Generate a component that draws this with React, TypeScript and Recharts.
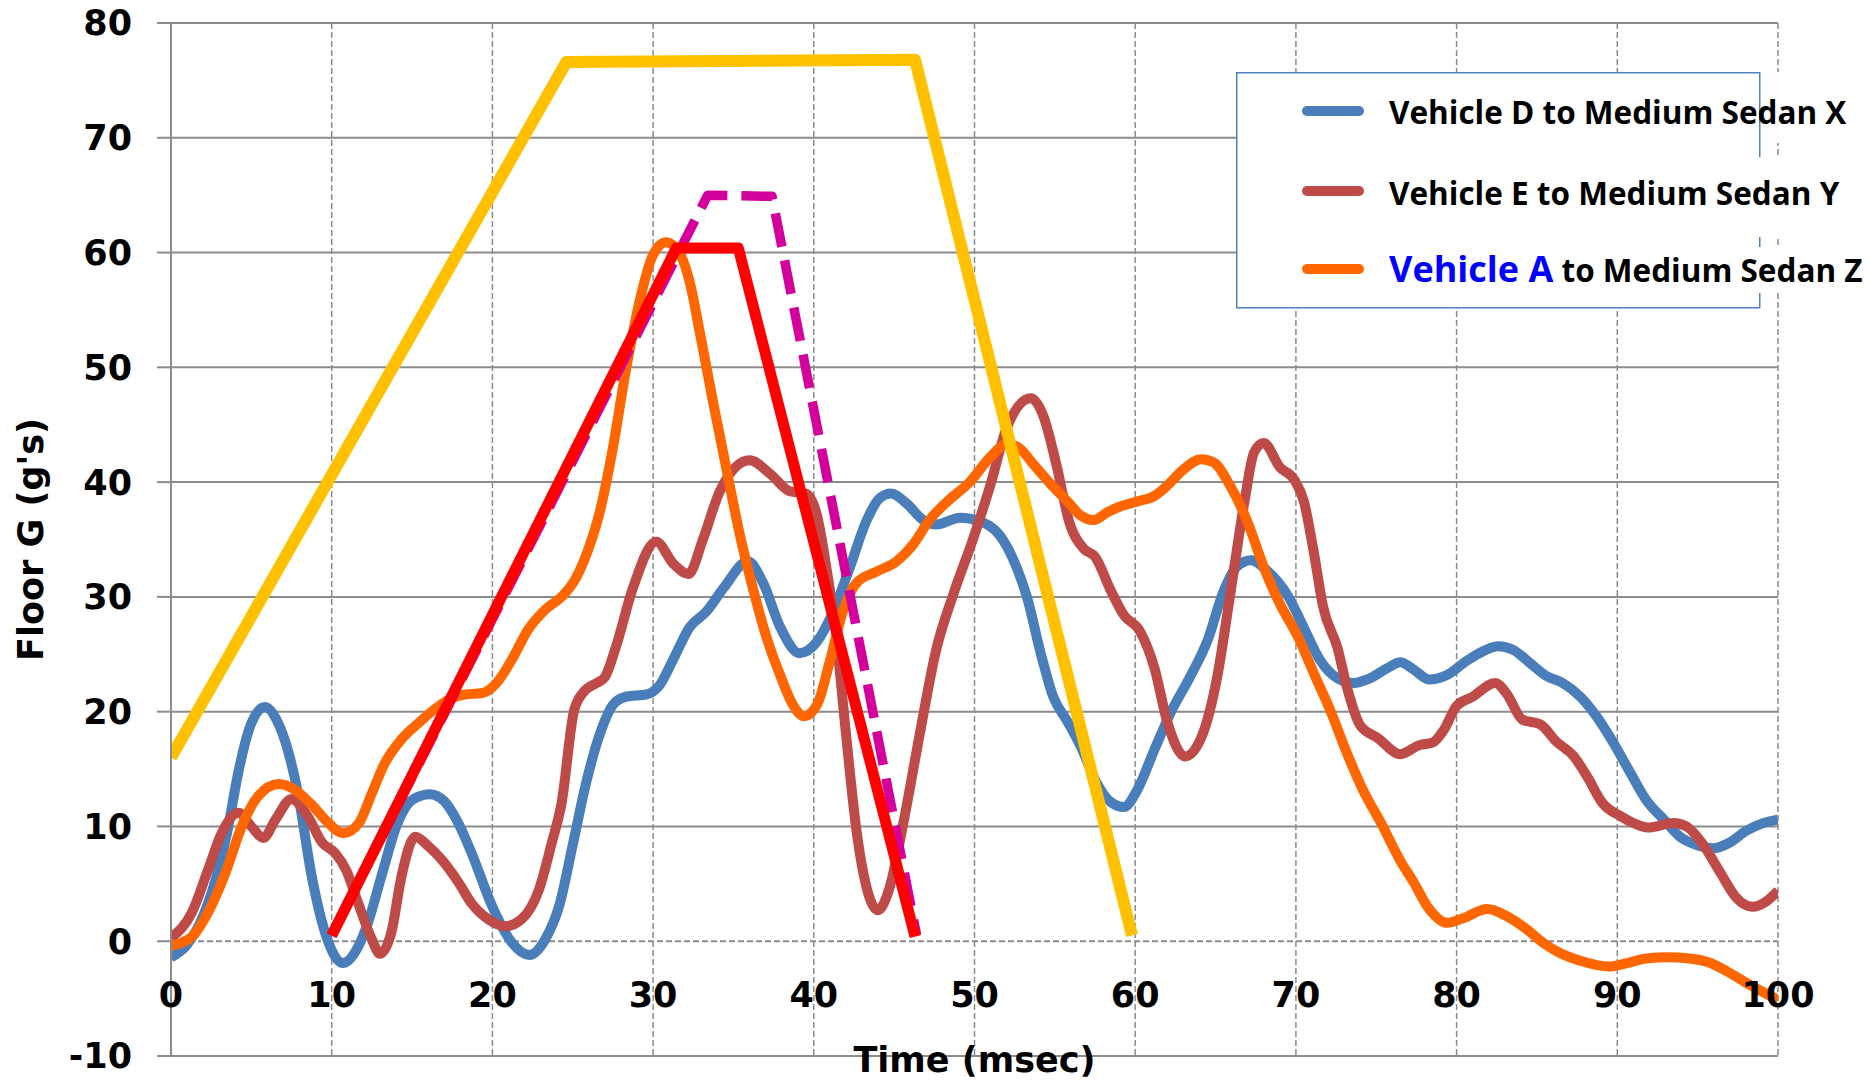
import React from 'react';
import { LineChart, Line, XAxis, YAxis, CartesianGrid, Legend, Label } from 'recharts';

// ---------- axis ticks ----------
const xTicks = [0, 10, 20, 30, 40, 50, 60, 70, 80, 90, 100];
const yTicks = [-10, 0, 10, 20, 30, 40, 50, 60, 70, 80];
const yGridSolid = [-10, 10, 20, 30, 40, 50, 60, 70, 80];
const yGridDashed = [0];

// ---------- series names ----------
const nameD = 'Vehicle D to Medium Sedan X';
const nameE = 'Vehicle E to Medium Sedan Y';
const nameA = 'Vehicle A to Medium Sedan Z';

// ---------- series values [time msec, floor G] ----------
const vehicleD: [number, number][] = [
  [0, -1.4], [1, -0.3], [2, 2.2], [2.8, 5.5], [3.5, 9.5], [4.2, 14.8], [5.0, 19.0], [5.85, 20.4],
  [6.6, 19.2], [7.3, 16.5], [7.9, 12.9], [8.75, 5.7], [9.6, 0.7], [10.7, -1.9], [11.6, -0.6],
  [12.3, 1.8], [13.1, 5.7], [14.1, 10.3], [15.0, 12.3], [16.1, 12.8], [17.0, 12.2], [17.8, 10.5],
  [18.7, 7.7], [20.0, 3.0], [21.2, -0.1], [22.3, -1.2], [23.3, 0.2], [24.2, 3.3], [25.0, 8.4],
  [25.85, 13.9], [26.7, 18.1], [27.5, 20.6], [28.3, 21.3], [29.6, 21.5], [30.4, 22.3], [31.2, 24.4],
  [32.3, 27.4], [33.3, 28.7], [34.4, 30.8], [35.9, 33.1], [36.85, 31.2], [37.9, 27.4], [39.1, 25.1],
  [40.2, 26.1], [41.2, 28.7], [42.2, 32.4], [43.3, 36.7], [44.1, 38.6], [44.8, 39.0], [45.8, 38.1],
  [46.8, 36.7], [47.6, 36.3], [49.1, 36.9], [50.3, 36.6], [51.6, 35.3], [52.4, 33.3], [53.3, 29.8],
  [54.1, 25.2], [54.9, 21.3], [55.8, 19.1], [56.6, 17.0], [57.6, 13.8], [58.5, 12.1], [59.3, 11.7],
  [60.1, 13.1], [61.2, 16.7], [62.2, 19.9], [63.4, 23.0], [64.5, 26.2], [65.5, 30.5], [66.3, 32.6],
  [67.2, 33.2], [68.2, 32.3], [69.5, 30.1], [70.5, 27.3], [71.5, 24.5], [72.6, 22.9], [73.6, 22.5],
  [74.6, 22.9], [75.7, 23.8], [76.5, 24.3], [77.3, 23.7], [78.3, 22.8], [79.4, 23.2], [80.6, 24.4],
  [81.7, 25.3], [82.6, 25.7], [83.5, 25.4], [84.6, 24.2], [85.6, 23.1], [86.6, 22.5], [87.7, 21.3],
  [88.7, 19.6], [89.75, 17.3], [90.8, 14.7], [91.8, 12.3], [92.9, 10.6], [93.9, 9.1], [94.9, 8.4],
  [96.0, 8.1], [97.0, 8.6], [98.0, 9.6], [99.1, 10.3], [100, 10.6],
];

const vehicleE: [number, number][] = [
  [0, 0.3], [1.3, 2.5], [2.3, 6.2], [3.15, 9.4], [4.2, 11.2], [5.0, 10.0], [5.75, 9.0], [6.5, 10.6],
  [7.5, 12.4], [8.5, 10.9], [9.4, 8.6], [10.2, 7.7], [10.9, 6.2], [11.65, 3.3], [12.5, 0.15],
  [13.0, -1.1], [13.7, 0.7], [14.35, 5.7], [15.2, 9.1], [16.0, 8.3], [16.85, 7.1], [17.9, 5.1],
  [18.7, 3.3], [19.75, 1.9], [20.8, 1.3], [21.8, 1.9], [22.9, 4.5], [23.7, 8.6], [24.3, 12.0],
  [25.1, 20.2], [25.8, 21.9], [26.5, 22.5], [27.0, 23.0], [27.7, 25.7], [28.75, 30.8], [30.2, 34.8],
  [31.25, 32.9], [32.2, 32.0], [33.1, 35.0], [34.15, 39.2], [36.0, 41.9], [37.3, 40.7], [38.5, 39.2],
  [39.5, 39.0], [40.2, 37.1], [40.8, 32.4], [41.4, 26.5], [42.0, 18.1], [42.65, 9.7], [43.3, 4.6],
  [44.0, 2.7], [44.7, 4.6], [45.6, 10.5], [46.6, 18.1], [47.6, 25.3], [48.7, 30.3], [49.9, 35.0],
  [51.0, 39.8], [52.0, 44.7], [53.5, 47.3], [54.3, 45.7], [55.1, 41.5], [55.9, 36.5], [56.8, 34.2],
  [57.5, 33.5], [58.5, 30.5], [59.3, 28.4], [60.3, 27.0], [61.2, 23.8], [62.0, 19.1], [63.1, 16.1],
  [64.1, 17.7], [65.1, 23.0], [65.9, 30.1], [66.8, 38.3], [67.4, 42.6], [68.0, 43.4], [69.0, 41.3],
  [69.9, 40.2], [70.5, 38.3], [71.1, 34.0], [71.7, 29.1], [72.6, 25.5], [73.2, 22.0], [74.0, 18.8],
  [75.1, 17.7], [76.5, 16.3], [77.7, 17.1], [78.5, 17.3], [79.2, 18.4], [80.0, 20.5], [81.0, 21.3],
  [82.4, 22.5], [83.1, 21.6], [84.1, 19.3], [85.2, 18.9], [86.2, 17.4], [87.3, 16.1], [88.1, 14.4],
  [89.1, 12.0], [90.2, 10.9], [91.0, 10.3], [91.9, 9.9], [93.5, 10.3], [94.3, 10.0], [95.4, 8.3],
  [96.4, 6.0], [97.4, 3.8], [98.4, 3.0], [99.3, 3.5], [100, 4.4],
];

const vehicleA: [number, number][] = [
  [0, -0.4], [1.3, 0.4], [2.3, 2.5], [3.4, 6.0], [4.4, 10.0], [5.4, 12.6], [6.7, 13.7], [7.7, 13.2],
  [8.75, 11.9], [9.8, 10.3], [10.7, 9.4], [11.7, 10.3], [12.5, 12.9], [13.3, 15.5], [14.35, 17.6],
  [15.4, 19.0], [16.4, 20.2], [17.5, 21.2], [18.3, 21.5], [19.3, 21.6], [20.2, 22.4], [21.2, 24.5],
  [22.2, 27.1], [23.3, 28.9], [24.3, 30.0], [25.1, 31.4], [25.85, 33.7], [26.7, 37.5], [27.5, 43.0],
  [28.3, 49.7], [29.2, 56.0], [30.0, 59.8], [30.8, 60.9], [31.7, 59.8], [32.3, 57.3], [32.9, 53.1],
  [33.7, 47.2], [34.6, 40.9], [35.4, 35.4], [36.2, 30.8], [37.05, 26.5], [37.9, 23.2], [38.7, 20.6],
  [39.4, 19.6], [40.2, 20.6], [41.0, 24.4], [41.8, 28.7], [42.65, 31.2], [43.9, 32.2], [45.15, 33.1],
  [46.2, 34.6], [47.2, 36.7], [48.3, 38.3], [49.7, 40.0], [51.0, 42.2], [52.0, 43.3], [52.65, 43.1],
  [53.7, 41.5], [54.7, 39.9], [55.8, 38.3], [56.6, 37.1], [57.4, 36.7], [58.3, 37.4], [59.1, 37.9],
  [60.1, 38.3], [61.2, 38.8], [62.0, 39.7], [63.0, 41.1], [64.1, 42.0], [64.9, 41.7], [65.9, 39.7],
  [67.0, 36.5], [68.0, 32.6], [69.0, 29.4], [70.1, 26.6], [71.1, 23.4], [72.2, 19.9], [73.2, 16.3],
  [74.2, 13.1], [75.3, 10.3], [76.5, 7.0], [77.3, 5.2], [78.3, 2.8], [79.4, 1.6], [80.4, 2.0],
  [81.9, 2.8], [83.1, 2.2], [84.4, 1.0], [85.4, -0.15], [86.4, -1.0], [87.7, -1.7], [89.5, -2.2],
  [90.6, -1.9], [91.8, -1.5], [93.1, -1.4], [94.5, -1.5], [95.8, -1.9], [96.8, -2.6], [98.0, -3.6],
  [99.3, -4.6], [100, -5.1],
];

const outerCorridor: [number, number][] = [[0, 16], [24.6, 76.6], [46.3, 76.8], [59.8, 0.5]];
const dashedCorridor: [number, number][] = [[10, 0.5], [33.4, 65.0], [37.4, 64.9], [46.4, 0.5]];
const innerCorridor: [number, number][] = [[10, 0.5], [31.45, 60.4], [35.3, 60.4], [46.3, 0.4]];

// ---------- styles ----------
const gridColor = '#8C8C8C';
const colorD = '#4A7EBB';
const colorE = '#BE4B48';
const colorA = '#FF6600';
const colorOuter = '#FFC000';
const colorDashed = '#D4009B';
const colorInner = '#FF0000';
const axisFont = "'DejaVu Sans', Verdana, sans-serif";
const legendFont = "'Open Sans', 'Noto Sans', sans-serif";

const toPoints = (pts: [number, number][]) => pts.map(([t, g]) => ({ t, g }));

const legendNames = [nameD, nameE, nameA];
const legendHighlight: Record<string, [string, string]> = {
  [nameA]: ['Vehicle A', ' to Medium Sedan Z'],
};

const XTick = (props: any) => {
  const { x, y, payload } = props;
  return (
    <text
      x={x}
      y={y - 49}
      textAnchor="middle"
      fontFamily={axisFont}
      fontWeight="bold"
      fontSize={35}
      fill="#000"
    >
      {payload.value}
    </text>
  );
};

const renderLegend = (props: any) => {
  const all = props.payload || [];
  const payload = legendNames
    .map((n) => all.find((p: any) => p.value === n))
    .filter(Boolean);
  const rowMarkY = [39, 119, 197];
  const rowBase = [52, 132.5, 210];
  return (
    <svg width={632} height={240} style={{ overflow: 'visible', display: 'block' }}>
      <rect x={0} y={0} width={524} height={236} fill="#fff" />
      <rect x={150} y={0} width={482} height={71} fill="#fff" />
      <rect x={0.75} y={0.75} width={523} height={235} fill="none" stroke="#4F81BD" strokeWidth={1.5} />
      <rect x={150} y={85} width={482} height={80} fill="#fff" />
      <rect x={150} y={175} width={482} height={46} fill="#fff" />
      {payload.map((entry: any, i: number) => {
        const hl = legendHighlight[entry.value];
        return (
          <g key={entry.value}>
            <line
              x1={71}
              x2={123}
              y1={rowMarkY[i]}
              y2={rowMarkY[i]}
              stroke={entry.color}
              strokeWidth={10}
              strokeLinecap="round"
            />
            <text x={153} y={rowBase[i]} fontFamily={legendFont} fontWeight="bold" fontSize={31.5} fill="#000">
              {hl ? (
                <>
                  <tspan fill="#0000FF" fontSize={36}>{hl[0]}</tspan>
                  <tspan>{hl[1]}</tspan>
                </>
              ) : (
                entry.value
              )}
            </text>
          </g>
        );
      })}
    </svg>
  );
};

const YTitle = (props: any) => {
  const vb = props.viewBox || { x: 0, y: 0, width: 0, height: 0 };
  const cx = vb.x + 43;
  const cy = vb.y + vb.height / 2;
  return (
    <text
      x={cx}
      y={cy}
      transform={`rotate(-90, ${cx}, ${cy})`}
      textAnchor="middle"
      fontFamily={axisFont}
      fontWeight="bold"
      fontSize={35}
      fill="#000"
    >
      Floor G (g's)
    </text>
  );
};

const XTitle = (props: any) => {
  const vb = props.viewBox || { x: 0, y: 0, width: 0, height: 0 };
  return (
    <text
      x={vb.x + vb.width / 2}
      y={vb.y + vb.height - 9}
      textAnchor="middle"
      fontFamily={axisFont}
      fontWeight="bold"
      fontSize={35}
      fill="#000"
    >
      Time (msec)
    </text>
  );
};

export default function App() {
  return (
    <div style={{ position: 'absolute', left: 0, top: 0, width: 1868, height: 1081, background: '#fff' }}>
      <LineChart width={1868} height={1081} margin={{ top: 23, right: 90, bottom: 0, left: 0 }}>
        <CartesianGrid horizontal={false} vertical stroke={gridColor} strokeWidth={1.5} strokeDasharray="6 3" />
        <CartesianGrid vertical={false} horizontalValues={yGridSolid} stroke={gridColor} strokeWidth={2} />
        <CartesianGrid vertical={false} horizontalValues={yGridDashed} stroke={gridColor} strokeWidth={2} strokeDasharray="6 3" />
        <XAxis
          dataKey="t"
          type="number"
          domain={[0, 100]}
          ticks={xTicks}
          interval={0}
          height={25}
          axisLine={false}
          tickLine={false}
          tickSize={0}
          tickMargin={0}
          tick={<XTick />}
          allowDataOverflow
        >
          <Label content={<XTitle />} />
        </XAxis>
        <YAxis
          type="number"
          domain={[-10, 80]}
          ticks={yTicks}
          interval={0}
          width={171}
          axisLine={{ stroke: gridColor, strokeWidth: 2 }}
          tickLine={{ stroke: gridColor, strokeWidth: 2 }}
          tickSize={14}
          tickMargin={25}
          tick={{ fontFamily: axisFont, fontWeight: 'bold', fontSize: 35, fill: '#000' }}
          allowDataOverflow
        >
          <Label content={<YTitle />} />
        </YAxis>
        <Legend
          layout="vertical"
          align="center"
          verticalAlign="middle"
          content={renderLegend}
          wrapperStyle={{ position: 'absolute', left: 1236, top: 72, width: 632, height: 240 }}
        />
        <Line data={toPoints(vehicleD)} dataKey="g" name={nameD} type="monotone" stroke={colorD} strokeWidth={10} dot={false} activeDot={false} isAnimationActive={false} />
        <Line data={toPoints(vehicleE)} dataKey="g" name={nameE} type="monotone" stroke={colorE} strokeWidth={10} dot={false} activeDot={false} isAnimationActive={false} />
        <Line data={toPoints(vehicleA)} dataKey="g" name={nameA} type="monotone" stroke={colorA} strokeWidth={10} dot={false} activeDot={false} isAnimationActive={false} />
        <Line data={toPoints(outerCorridor)} dataKey="g" name="Outer corridor" legendType="none" type="linear" stroke={colorOuter} strokeWidth={12} strokeLinejoin="round" dot={false} activeDot={false} isAnimationActive={false} />
        <Line data={toPoints(dashedCorridor)} dataKey="g" name="Dashed corridor" legendType="none" type="linear" stroke={colorDashed} strokeWidth={9.5} strokeDasharray="34 14" strokeLinejoin="round" dot={false} activeDot={false} isAnimationActive={false} />
        <Line data={toPoints(innerCorridor)} dataKey="g" name="Inner corridor" legendType="none" type="linear" stroke={colorInner} strokeWidth={11} strokeLinejoin="round" dot={false} activeDot={false} isAnimationActive={false} />
      </LineChart>
    </div>
  );
}
